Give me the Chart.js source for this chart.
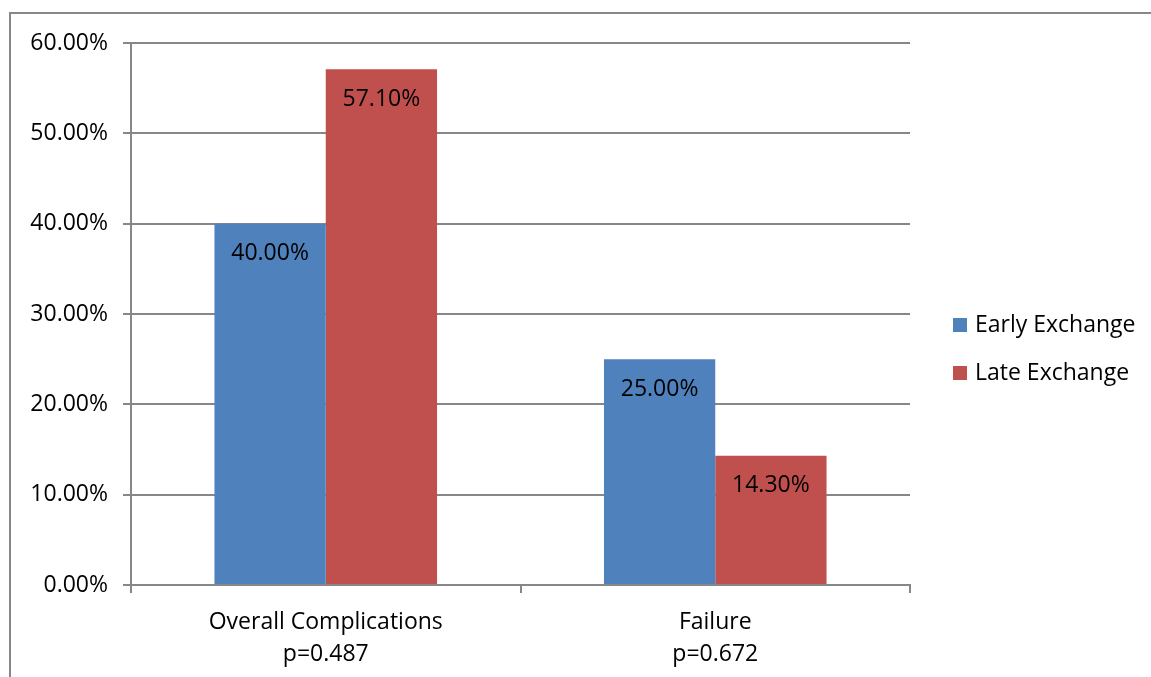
<!DOCTYPE html>
<html>
<head>
<meta charset="utf-8">
<script src="https://cdn.jsdelivr.net/npm/chart.js@4"></script>
<style>
  html, body { margin: 0; padding: 0; background: #fff; }
  #wrap { position: relative; width: 1151px; height: 677px; }
</style>
</head>
<body>
<div id="wrap"><canvas id="myChart" width="1151" height="677"></canvas></div>
<script>
const categorias = ["Overall Complications", "Failure"]
const pValores = ["p=0.487", "p=0.672"]
const earlyExchange = [40.0, 25.0]
const lateExchange = [57.1, 14.3]
const yTicks = [0, 10, 20, 30, 40, 50, 60]

const fuente = "'Open Sans', 'Liberation Sans', sans-serif"
const tam = 23
const gris = "#878787"

// marco gris de la imagen (izquierda y arriba)
const marco = {
    id: "marco",
    beforeDraw(chart) {
        const ctx = chart.ctx
        ctx.save()
        ctx.strokeStyle = gris
        ctx.lineWidth = 2
        ctx.beginPath()
        ctx.moveTo(10, 677)
        ctx.lineTo(10, 13)
        ctx.lineTo(1151, 13)
        ctx.stroke()
        ctx.restore()
    }
}

// etiquetas dentro de las barras
const etiquetas = {
    id: "etiquetas",
    afterDatasetsDraw(chart) {
        const ctx = chart.ctx
        ctx.save()
        ctx.font = tam + "px " + fuente
        ctx.fillStyle = "#000"
        ctx.textAlign = "center"
        ctx.textBaseline = "middle"
        chart.data.datasets.forEach((ds, i) => {
            chart.getDatasetMeta(i).data.forEach((bar, j) => {
                ctx.fillText(ds.data[j].toFixed(2) + "%", bar.x, bar.y + 30)
            })
        })
        ctx.restore()
    }
}

// leyenda a la derecha
const leyenda = {
    id: "leyenda",
    afterDraw(chart) {
        const ctx = chart.ctx
        const x = chart.chartArea.right + 43
        const y0 = 325
        ctx.save()
        ctx.font = tam + "px " + fuente
        ctx.textBaseline = "middle"
        chart.data.datasets.forEach((ds, i) => {
            const y = y0 + i * 48
            ctx.fillStyle = ds.backgroundColor
            ctx.fillRect(x, y - 7, 14, 14)
            ctx.fillStyle = "#000"
            ctx.fillText(ds.label, x + 22, y)
        })
        ctx.restore()
    }
}

const data = {
    labels: categorias.map((c, i) => [c, pValores[i]]),
    datasets: [
        { label: "Early Exchange", data: earlyExchange, backgroundColor: "#4F81BD" },
        { label: "Late Exchange", data: lateExchange, backgroundColor: "#C0504D" }
    ]
}

const config = {
    type: "bar",
    data,
    options: {
        responsive: false,
        animation: false,
        devicePixelRatio: 1,
        categoryPercentage: 2 / 3.5,
        barPercentage: 1,
        layout: { padding: { left: 0, top: 43, right: 241, bottom: 0 } },
        plugins: { legend: { display: false }, tooltip: { enabled: false } },
        scales: {
            x: {
                grid: { offset: true, drawOnChartArea: false, color: gris, lineWidth: 2, tickLength: 8 },
                border: { color: gris, width: 2 },
                ticks: { color: "#000", font: { family: fuente, size: tam, lineHeight: 1.37 }, padding: 14 },
                afterFit(scale) { scale.height = 92 }
            },
            y: {
                min: 0,
                max: 60,
                afterBuildTicks(scale) { scale.ticks = yTicks.map(v => ({ value: v })) },
                grid: { color: gris, lineWidth: 2, tickLength: 8 },
                border: { color: gris, width: 2 },
                ticks: {
                    color: "#000",
                    font: { family: fuente, size: tam },
                    padding: 15,
                    callback: v => v.toFixed(2) + "%"
                },
                afterFit(scale) { scale.width = 131 }
            }
        }
    },
    plugins: [marco, etiquetas, leyenda]
}

new Chart(document.getElementById("myChart").getContext("2d"), config)
</script>
</body>
</html>
